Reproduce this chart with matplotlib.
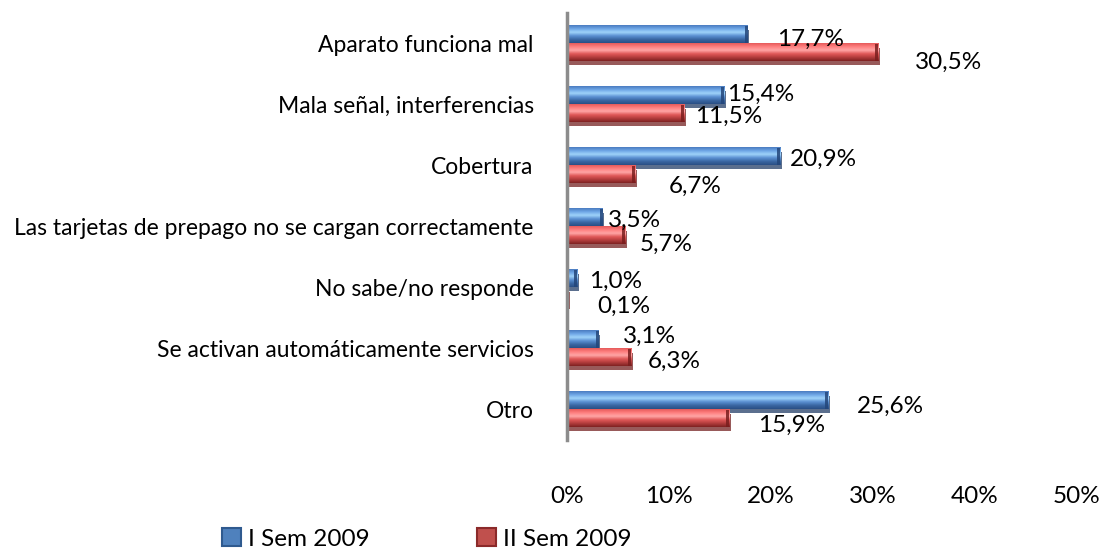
import numpy as np
import matplotlib
matplotlib.use("Agg")
import matplotlib.pyplot as plt
from matplotlib.patches import Rectangle
from matplotlib.colors import LinearSegmentedColormap

categories = [
    "Aparato funciona mal",
    "Mala señal, interferencias",
    "Cobertura",
    "Las tarjetas de prepago no se cargan correctamente",
    "No sabe/no responde",
    "Se activan automáticamente servicios",
    "Otro",
]
sem1 = [17.7, 15.4, 20.9, 3.5, 1.0, 3.1, 25.6]
sem2 = [30.5, 11.5, 6.7, 5.7, 0.1, 6.3, 15.9]
series_names = ["I Sem 2009", "II Sem 2009"]
x_ticks = [0, 10, 20, 30, 40, 50]

# label offsets (pixels right of bar end, pixels below bar centre)
sem1_offsets = [(30, 5), (3, -1), (10, 3), (5, 3), (12, 3), (24, -3), (29, 6)]
sem2_offsets = [(37, 10), (11, 3), (33, 12), (15, 9), (29, 10), (16, 4), (29, 7)]

plt.rcParams["font.family"] = ["Lato", "DejaVu Sans"]

blue_stops = ["#4a7cc0", "#6ea6e6", "#9fd3fa", "#5b90d2", "#3a67a3", "#2a4f85"]
red_stops = ["#e65a5a", "#ff8080", "#ffa5a5", "#e05858", "#b23c3c", "#7f2222"]
blue_cap, red_cap = "#23467a", "#7a1e1e"
blue_shadow, red_shadow = "#5b6f8e", "#985a5a"

fig = plt.figure(figsize=(11.09, 5.51), dpi=100)
W, H = 1109, 551
ax_left, ax_right, ax_top, ax_bottom = 567, 1077, 13, 440
ax = fig.add_axes([ax_left / W, 1 - ax_bottom / H,
                   (ax_right - ax_left) / W, (ax_bottom - ax_top) / H])
ax.set_xlim(0, 50)
ax.set_ylim(-0.5, len(categories) - 0.5)

px_x = 50 / (ax_right - ax_left)      # data units per pixel
px_y = len(categories) / (ax_bottom - ax_top)

ypos = np.arange(len(categories))[::-1]
bar_h = 0.28
shift = 0.145


def draw_bar(y, value, stops, cap, shadow):
    # drop shadow under the bar
    ax.add_patch(Rectangle((0, y - bar_h / 2 - 4 * px_y), value + 1.5 * px_x, bar_h,
                           facecolor=shadow, edgecolor="none", zorder=1))
    cmap = LinearSegmentedColormap.from_list("g", stops)
    grad = np.linspace(0, 1, 64).reshape(-1, 1)
    ax.imshow(grad, cmap=cmap, aspect="auto", interpolation="bilinear",
              extent=[0, value, y - bar_h / 2, y + bar_h / 2], origin="upper", zorder=2)
    cap_w = min(3 * px_x, value)
    ax.add_patch(Rectangle((value - cap_w, y - bar_h / 2), cap_w, bar_h,
                           facecolor=cap, edgecolor="none", alpha=0.85, zorder=3))


for i, y in enumerate(ypos):
    yb, yr = y + shift, y - shift
    draw_bar(yb, sem1[i], blue_stops, blue_cap, blue_shadow)
    draw_bar(yr, sem2[i], red_stops, red_cap, red_shadow)
    for val, yy, (dx, dy) in ((sem1[i], yb, sem1_offsets[i]), (sem2[i], yr, sem2_offsets[i])):
        ax.annotate(f"{val:.1f}%".replace(".", ","), xy=(val, yy),
                    xytext=(dx * 0.72, -dy * 0.72), textcoords="offset points",
                    ha="left", va="center", fontsize=17.5, color="black", zorder=5)

ax.set_yticks(ypos)
ax.set_yticklabels(categories, fontsize=16.5)
ax.set_xticks(x_ticks)
ax.set_xticklabels([f"{t}%" for t in x_ticks], fontsize=17.5)
ax.tick_params(axis="y", length=0, pad=24)
ax.tick_params(axis="x", length=0, pad=33)

for side in ("top", "right", "bottom"):
    ax.spines[side].set_visible(False)
ax.spines["left"].set_color("#8c8c8c")
ax.spines["left"].set_linewidth(2.5)
ax.spines["left"].set_zorder(6)

# legend: small squares with labels
legend_items = [(222, series_names[0], "#4f81bd", "#2f5a8f"),
                (477, series_names[1], "#c0504d", "#8b2a2a")]
for x0, name, face, edge in legend_items:
    fig.add_artist(Rectangle((x0 / W, 1 - 546 / H), 19 / W, 18 / H,
                             transform=fig.transFigure, facecolor=face,
                             edgecolor=edge, linewidth=1.5))
    fig.text((x0 + 26) / W, 1 - 540 / H, name, ha="left", va="center", fontsize=17.5)

fig.savefig("out.png", dpi=100)
